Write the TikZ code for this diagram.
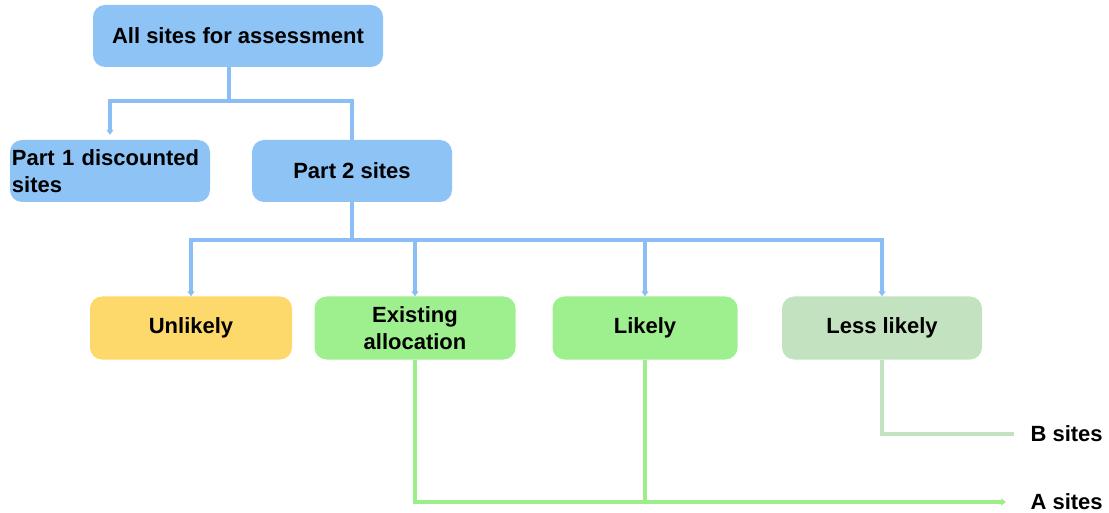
\documentclass[tikz,border=0pt]{standalone}
\usepackage{fontspec}
\setmainfont{Liberation Sans}
\usetikzlibrary{arrows.meta}
\definecolor{boxblue}{HTML}{8EC3F5}
\definecolor{lineblue}{HTML}{8CBEF6}
\definecolor{boxyellow}{HTML}{FDD96B}
\definecolor{boxgreen}{HTML}{9DF08D}
\definecolor{linegreen}{HTML}{9CEE8A}
\definecolor{boxpale}{HTML}{C3E2C0}
\tikzset{
  box/.style={rounded corners=12pt, minimum height=62pt, inner sep=2pt, align=center,
    font=\fontsize{22}{27}\selectfont\bfseries},
  bl/.style={draw=lineblue, line width=3.5pt},
  gl/.style={draw=linegreen, line width=3.5pt},
  pl/.style={draw=boxpale, line width=3.5pt},
  tip/.style={-{Triangle[length=5pt,width=7pt]}},
  lbl/.style={font=\fontsize{22}{26}\selectfont\bfseries, anchor=west}
}
\begin{document}
\begin{tikzpicture}[x=1pt,y=-1pt]
\useasboundingbox (0,0) rectangle (1109,513);
\node[box, fill=boxblue, minimum width=290pt] (all) at (238,36) {All sites for assessment};
\node[box, fill=boxblue, minimum width=200pt, text width=196pt, align=left] (p1) at (110,171) {Part 1 discounted\\sites};
\node[box, fill=boxblue, minimum width=200pt] (p2) at (352,171) {Part 2 sites};
\node[box, fill=boxyellow, minimum width=202pt, minimum height=63pt] (unl) at (191,328) {Unlikely};
\node[box, fill=boxgreen, minimum width=201pt, minimum height=63pt] (ex) at (415,328) {Existing\\allocation};
\node[box, fill=boxgreen, minimum width=185pt, minimum height=63pt] (lik) at (645,328) {Likely};
\node[box, fill=boxpale, minimum width=200pt, minimum height=63pt] (less) at (882,328) {Less likely};
\node[lbl] (b) at (1027,434) {B sites};
\node[lbl] (a) at (1027,502) {A sites};
\coordinate (j1) at (229,101);
\coordinate (j2) at (352,240);
\coordinate (ea) at (1006,502);
\coordinate (eb) at (1014,434);
% top connectors
\draw[bl] (all.south -| j1) -- (j1);
\draw[bl, tip, shorten >=5pt] (j1) -| (p1.north);
\draw[bl] (j1) -| (p2.north);
% second level
\draw[bl] (p2.south) -- (j2);
\draw[bl, tip] (j2) -| (unl.north);
\draw[bl, tip] (j2) -| (ex.north);
\draw[bl, tip] (j2) -| (lik.north);
\draw[bl, tip] (j2) -| (less.north);
% green
\draw[gl, tip] (ex.south) |- (ea);
\draw[gl] (lik.south) -- (lik.south |- ea);
\draw[pl] (less.south) |- (eb);
\end{tikzpicture}
\end{document}
